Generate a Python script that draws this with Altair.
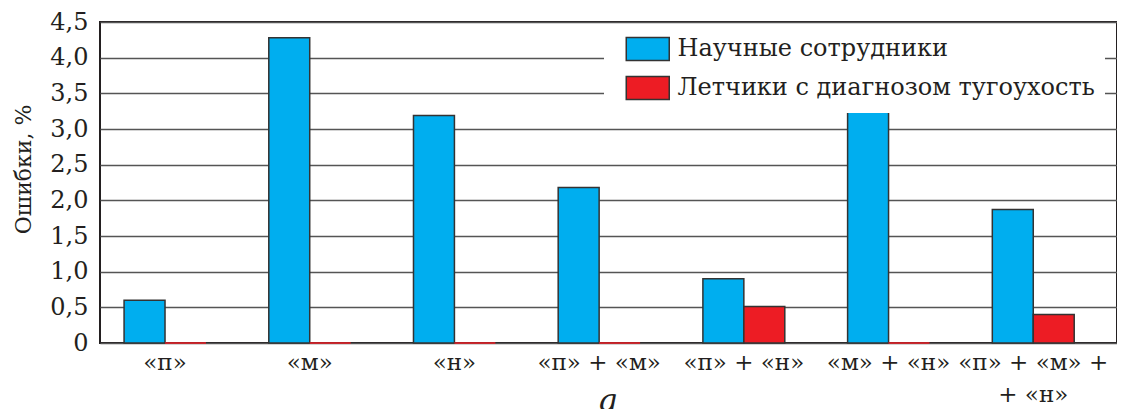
import altair as alt
import pandas as pd

categories = ["«п»", "«м»", "«н»", "«п» + «м»", "«п» + «н»", "«м» + «н»", "«п» + «м» +\n+ «н»"]
series = ["Научные сотрудники", "Летчики с диагнозом тугоухость"]
scientists = [0.6, 4.28, 3.19, 2.18, 0.90, 3.27, 1.87]
pilots = [0.0, 0.0, 0.0, 0.0, 0.51, 0.0, 0.40]
colors = ["#00AEEF", "#ED1C24"]
y_ticks = [0, 0.5, 1.0, 1.5, 2.0, 2.5, 3.0, 3.5, 4.0, 4.5]

rows = []
for c, s, p in zip(categories, scientists, pilots):
    rows.append({"category": c, "series": series[0], "value": s})
    rows.append({"category": c, "series": series[1], "value": p})
df = pd.DataFrame(rows)

FONT = "DejaVu Serif"
INK = "#231F20"

chart = alt.Chart(df).mark_bar(strokeWidth=1.5).encode(
    x=alt.X(
        "category:N",
        sort=categories,
        scale=alt.Scale(paddingInner=0.434, paddingOuter=0.231, align=0.36),
        axis=alt.Axis(
            title=None, labelAngle=0, ticks=False, domain=False, grid=False,
            labelExpr="split(datum.label, '\\n')",
            labelFont=FONT, labelFontSize=23, labelColor=INK,
            labelPadding=8, labelLineHeight=32, labelLimit=300,
        ),
    ),
    xOffset=alt.XOffset("series:N", sort=series,
                        scale=alt.Scale(paddingInner=0, paddingOuter=0)),
    y=alt.Y(
        "value:Q",
        scale=alt.Scale(domain=[0, 4.5], nice=False),
        axis=alt.Axis(
            values=y_ticks, title="Ошибки, %", ticks=False, domain=False,
            grid=True, gridColor="#555555", gridWidth=1.5,
            labelExpr="datum.value == 0 ? '0' : replace(format(datum.value, '.1f'), '.', ',')",
            labelFont=FONT, labelFontSize=24, labelColor=INK, labelPadding=12,
            titleFont=FONT, titleFontSize=22, titleFontWeight="normal",
            titleColor=INK, titlePadding=14, titleY=147,
        ),
    ),
    color=alt.Color(
        "series:N",
        sort=series,
        scale=alt.Scale(domain=series, range=colors),
        legend=alt.Legend(
            title=None, orient="none", legendX=504, legendY=5,
            fillColor="white", padding=10,
            symbolType="M-2,-1.07L2,-1.07L2,1.07L-2,1.07Z", symbolSize=462,
            symbolStrokeColor="#333333", symbolStrokeWidth=1.5,
            symbolOffset=21.75, labelOffset=17.75,
            labelFont=FONT, labelFontSize=24, labelColor=INK, labelLimit=700,
            rowPadding=9,
        ),
    ),
    stroke=alt.condition("datum.value == 0", alt.value("#ED1C24"), alt.value("#333333")),
).properties(
    width=1017,
    height=321,
    autosize=alt.AutoSizeParams(type="none"),
    padding={"left": 92, "top": 14, "right": 0, "bottom": 80},
    title=alt.TitleParams(
        "а", orient="bottom", anchor="middle", font=FONT, fontStyle="italic",
        fontSize=32, fontWeight="normal", color=INK, offset=-20,
    ),
).configure(
    font=FONT
).configure_view(
    stroke=INK, strokeWidth=2
)

chart.save("out.html", embed_options={"renderer": "svg", "actions": False})
